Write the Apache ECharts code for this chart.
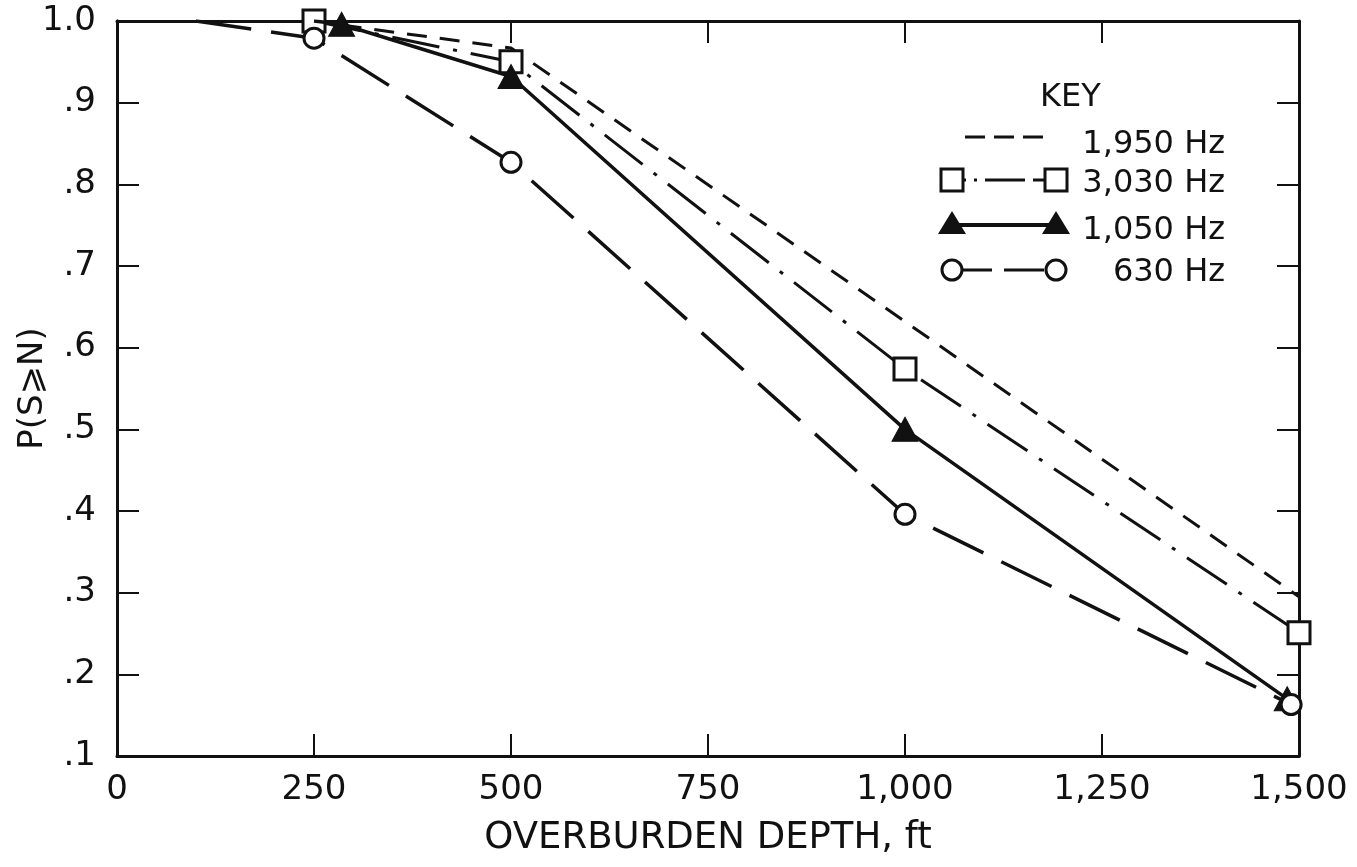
<!DOCTYPE html>
<html>
<head>
<meta charset="utf-8">
<script src="https://cdn.jsdelivr.net/npm/echarts@6/dist/echarts.min.js"></script>
<style>
html,body{margin:0;padding:0;background:#fff;}
#chart{width:1357px;height:867px;}
</style>
</head>
<body>
<div id="chart"></div>
<script>
// ---- data ----
var xTicks = [0, 250, 500, 750, 1000, 1250, 1500];
var yTicks = [0.1, 0.2, 0.3, 0.4, 0.5, 0.6, 0.7, 0.8, 0.9, 1.0];
var seriesNames = ['1,950 Hz', '3,030 Hz', '1,050 Hz', '630 Hz'];
var hz1950 = [[285, 0.995], [500, 0.967], [1000, 0.632], [1500, 0.295]];
var hz3030 = [[250, 1.0], [500, 0.95], [1000, 0.574], [1500, 0.251]];
var hz1050 = [[250, 1.0], [285, 0.996], [500, 0.932], [1000, 0.5], [1485, 0.17]];
var hz630  = [[100, 1.0], [250, 0.979], [500, 0.827], [1000, 0.396], [1490, 0.163]];

var FONT = '"DejaVu Sans", sans-serif';
var INK = '#111';

function fmtX(v){ return v >= 1000 ? (Math.floor(v/1000) + ',' + String(v % 1000).padStart(3,'0')) : String(v); }
function fmtY(v){ v = Math.round(v*10)/10; return v >= 1 ? '1.0' : ('.' + Math.round(v*10)); }

function markData(arr, hideN){
  return arr.map(function(p, i){
    var d = {value: p};
    if (i < (hideN || 0)) d.symbol = 'none';
    return d;
  });
}

var chart = echarts.init(document.getElementById('chart'), null, {renderer:'canvas'});

function axisLineStyle(){ return {show:true, onZero:false, lineStyle:{color: INK, width: 3}}; }
function tickStyle(){ return {show:true, inside:true, length:22, lineStyle:{color:INK, width:2}}; }

// key box drawn as graphics
var lx0 = 952, lx1 = 1056, textRight = 1225;
var rows = [137, 180, 225, 270];
var textCenters = [142, 181, 228, 270];
var graphics = [
  {type:'text', left: 1040, top: 82, style:{text:'KEY', font:'32px ' + FONT, fill:INK}},
  {type:'line', shape:{x1:965, y1:rows[0], x2:1043, y2:rows[0]}, style:{stroke:INK, lineWidth:3, lineDash:[20,9]}},
  {type:'line', shape:{x1:lx0, y1:rows[1], x2:lx1, y2:rows[1]}, style:{stroke:INK, lineWidth:3, lineDash:[14,8,3,8,40,8]}},
  {type:'rect', shape:{x:lx0-11, y:rows[1]-11, width:22, height:22}, style:{fill:'#fff', stroke:INK, lineWidth:3}},
  {type:'rect', shape:{x:lx1-11, y:rows[1]-11, width:22, height:22}, style:{fill:'#fff', stroke:INK, lineWidth:3}},
  {type:'line', shape:{x1:lx0, y1:rows[2], x2:lx1, y2:rows[2]}, style:{stroke:INK, lineWidth:4}},
  {type:'polygon', shape:{points:[[lx0-14,rows[2]+9],[lx0+14,rows[2]+9],[lx0,rows[2]-14]]}, style:{fill:INK}},
  {type:'polygon', shape:{points:[[lx1-14,rows[2]+9],[lx1+14,rows[2]+9],[lx1,rows[2]-14]]}, style:{fill:INK}},
  {type:'line', shape:{x1:lx0, y1:rows[3], x2:lx1, y2:rows[3]}, style:{stroke:INK, lineWidth:3, lineDash:[40,12]}},
  {type:'circle', shape:{cx:lx0, cy:rows[3], r:10}, style:{fill:'#fff', stroke:INK, lineWidth:3}},
  {type:'circle', shape:{cx:lx1, cy:rows[3], r:10}, style:{fill:'#fff', stroke:INK, lineWidth:3}}
];
seriesNames.forEach(function(n, i){
  graphics.push({type:'text', right: 1357 - textRight, top: textCenters[i]-13, style:{text:n, font:'32px ' + FONT, fill:INK}});
});

var gridBox = {left:117, right:58, top:21, bottom:111, containLabel:false, outerBoundsMode:'none'};

var option = {
  backgroundColor:'#fff',
  animation:false,
  grid:[Object.assign({}, gridBox), Object.assign({}, gridBox)],
  xAxis:[{
    gridIndex:0, type:'value', position:'bottom', min:0, max:1500, interval:250,
    axisLine:axisLineStyle(),
    axisTick:tickStyle(),
    splitLine:{show:false},
    axisLabel:{formatter:fmtX, fontSize:34, fontFamily:FONT, color:INK, margin:17},
    name:'OVERBURDEN DEPTH, ft', nameLocation:'middle', nameGap:64,
    nameTextStyle:{fontSize:37, fontFamily:FONT, color:INK}
  },{
    gridIndex:0, type:'value', position:'top', min:0, max:1500, interval:250,
    axisLine:axisLineStyle(),
    axisTick:tickStyle(), axisLabel:{show:false}, splitLine:{show:false}
  },{
    gridIndex:1, type:'value', min:0, max:1500, interval:250, show:false
  }],
  yAxis:[{
    gridIndex:0, type:'value', position:'left', min:0.1, max:1.0, interval:0.1,
    axisLine:axisLineStyle(),
    axisTick:tickStyle(),
    splitLine:{show:false},
    axisLabel:{formatter:fmtY, fontSize:34, fontFamily:FONT, color:INK, margin:21},
    name:'P(S\u2A7EN)', nameLocation:'middle', nameGap:67, nameRotate:90, nameMoveOverlap:false,
    nameTextStyle:{fontSize:34, fontFamily:FONT, color:INK}
  },{
    gridIndex:0, type:'value', position:'right', min:0.1, max:1.0, interval:0.1,
    axisLine:axisLineStyle(),
    axisTick:tickStyle(), axisLabel:{show:false}, splitLine:{show:false}
  },{
    gridIndex:1, type:'value', position:'left', min:0.1, max:1.0, interval:0.1,
    axisLine:axisLineStyle(),
    axisTick:tickStyle(), axisLabel:{show:false}, splitLine:{show:false}
  }],
  graphic: graphics,
  series:[
    {name:seriesNames[0], type:'line', data:hz1950, showSymbol:false, symbol:'none',
      lineStyle:{color:INK, width:3, type:[20,13]}, z:3},
    {name:seriesNames[1], type:'line', data:hz3030, symbol:'rect', symbolSize:22,
      itemStyle:{color:'#fff', borderColor:INK, borderWidth:3},
      lineStyle:{color:INK, width:3, type:[48,14,4,14]}, z:4},
    {name:seriesNames[2], type:'line', data:markData(hz1050, 1), symbol:'triangle', symbolSize:[26,24],
      itemStyle:{color:INK, borderColor:INK, borderWidth:1},
      lineStyle:{color:INK, width:3.5}, z:5},
    {name:seriesNames[3], type:'line', data:markData(hz630, 1), symbol:'circle', symbolSize:20,
      itemStyle:{color:'#fff', borderColor:INK, borderWidth:3},
      lineStyle:{color:INK, width:3.5, type:[56,20]}, z:6}
  ]
};
chart.setOption(option);
</script>
</body>
</html>
